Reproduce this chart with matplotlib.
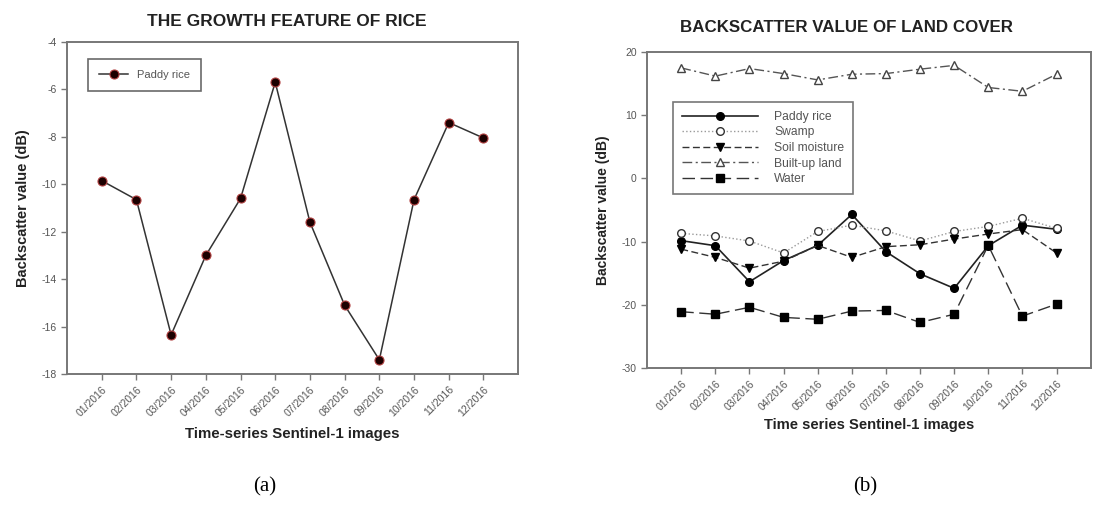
import numpy as np
import matplotlib
matplotlib.use("Agg")
import matplotlib.pyplot as plt

plt.rcParams['font.family'] = ['Liberation Sans', 'DejaVu Sans']
plt.rcParams['axes.unicode_minus'] = False

months = ['01/2016', '02/2016', '03/2016', '04/2016', '05/2016', '06/2016',
          '07/2016', '08/2016', '09/2016', '10/2016', '11/2016', '12/2016']

# backscatter values (dB)
paddy_rice = [-9.85, -10.65, -16.35, -13.0, -10.6, -5.7, -11.6, -15.1, -17.4, -10.65, -7.4, -8.05]
swamp = [-8.7, -9.1, -9.9, -11.8, -8.4, -7.4, -8.3, -9.9, -8.4, -7.6, -6.3, -7.9]
soil_moisture = [-11.2, -12.5, -14.2, -13.1, -10.6, -12.5, -10.8, -10.5, -9.6, -8.8, -8.1, -11.8]
built_up = [17.5, 16.2, 17.4, 16.6, 15.6, 16.5, 16.6, 17.3, 17.9, 14.4, 13.8, 16.5]
water = [-21.1, -21.5, -20.4, -22.0, -22.3, -21.0, -20.9, -22.8, -21.5, -10.6, -21.8, -19.9]

x = np.arange(1, len(months) + 1)

tick_col = '#555555'
spine_col = '#777777'
text_col = '#222222'

def style_axes(ax):
    for s in ax.spines.values():
        s.set_color(spine_col)
        s.set_linewidth(1.4)
    ax.tick_params(axis='both', colors=spine_col, labelcolor=tick_col,
                   labelsize=7.5, direction='out', length=4, width=1)
    ax.set_xlim(0, 13)
    ax.set_xticks(x)
    ax.set_xticklabels(months, rotation=45, ha='right', rotation_mode='anchor')

fig = plt.figure(figsize=(10.95, 5.11), dpi=100)

# (a) growth feature of rice
ax1 = fig.add_axes([0.0612, 0.268, 0.412, 0.650])
ax1.plot(x, paddy_rice, color='#333333', lw=1.1, marker='o', ms=6.5,
         mfc='#1c0000', mec='#b04040', mew=0.8, label='Paddy rice')
ax1.set_ylim(-18, -4)
ax1.set_yticks(np.arange(-18, -3, 2))
style_axes(ax1)
leg1 = ax1.legend(loc='upper left', fontsize=8, frameon=True, fancybox=False,
                  edgecolor='#444444', borderpad=1.0, handlelength=2.6,
                  bbox_to_anchor=(0.035, 0.965))
leg1.get_frame().set_linewidth(1.2)
for t in leg1.get_texts():
    t.set_color(tick_col)
ax1.set_xlabel('Time-series Sentinel-1 images', fontsize=10.8, fontweight='bold',
               color=text_col, labelpad=6)
ax1.set_ylabel('Backscatter value (dB)', fontsize=10.5, fontweight='bold',
               color=text_col, labelpad=8)
fig.text(0.262, 0.957, 'THE GROWTH FEATURE OF RICE', ha='center', va='center',
         fontsize=12.5, fontweight='bold', color=text_col)

# (b) backscatter of land cover
ax2 = fig.add_axes([0.591, 0.280, 0.405, 0.618])
ax2.plot(x, paddy_rice, color='#222222', lw=1.2, ls='-', marker='o', ms=5.5,
         mfc='black', mec='black', label='Paddy rice')
ax2.plot(x, swamp, color='#999999', lw=1.0, ls=':', marker='o', ms=5.5,
         mfc='white', mec='#333333', label='Swamp')
ax2.plot(x, soil_moisture, color='#333333', lw=1.0, ls=(0, (5, 2.5)), marker='v', ms=5.5,
         mfc='black', mec='black', label='Soil moisture')
ax2.plot(x, built_up, color='#555555', lw=1.0, ls=(0, (7, 2.5, 1.5, 2.5)), marker='^', ms=5.5,
         mfc='white', mec='#444444', label='Built-up land')
ax2.plot(x, water, color='#333333', lw=1.0, ls=(0, (9, 4)), marker='s', ms=5.5,
         mfc='black', mec='black', label='Water')
ax2.set_ylim(-30, 20)
ax2.set_yticks(np.arange(-30, 21, 10))
style_axes(ax2)
leg2 = ax2.legend(loc='upper left', fontsize=8.7, frameon=True, fancybox=False,
                  edgecolor='#555555', handlelength=6.3, handletextpad=1.3,
                  borderpad=0.75, labelspacing=0.3, bbox_to_anchor=(0.045, 0.862))
leg2.get_frame().set_linewidth(1.2)
for t in leg2.get_texts():
    t.set_color(tick_col)
ax2.set_xlabel('Time series Sentinel-1 images', fontsize=10.6, fontweight='bold',
               color=text_col, labelpad=4)
ax2.set_ylabel('Backscatter value (dB)', fontsize=10, fontweight='bold',
               color=text_col, labelpad=8)
fig.text(0.773, 0.947, 'BACKSCATTER VALUE OF LAND COVER', ha='center', va='center',
         fontsize=12.2, fontweight='bold', color=text_col)

fig.text(0.242, 0.047, '(a)', ha='center', va='center', fontsize=15,
         family=['Liberation Serif', 'DejaVu Serif'])
fig.text(0.790, 0.047, '(b)', ha='center', va='center', fontsize=15,
         family=['Liberation Serif', 'DejaVu Serif'])

fig.savefig('out.png', dpi=100)
